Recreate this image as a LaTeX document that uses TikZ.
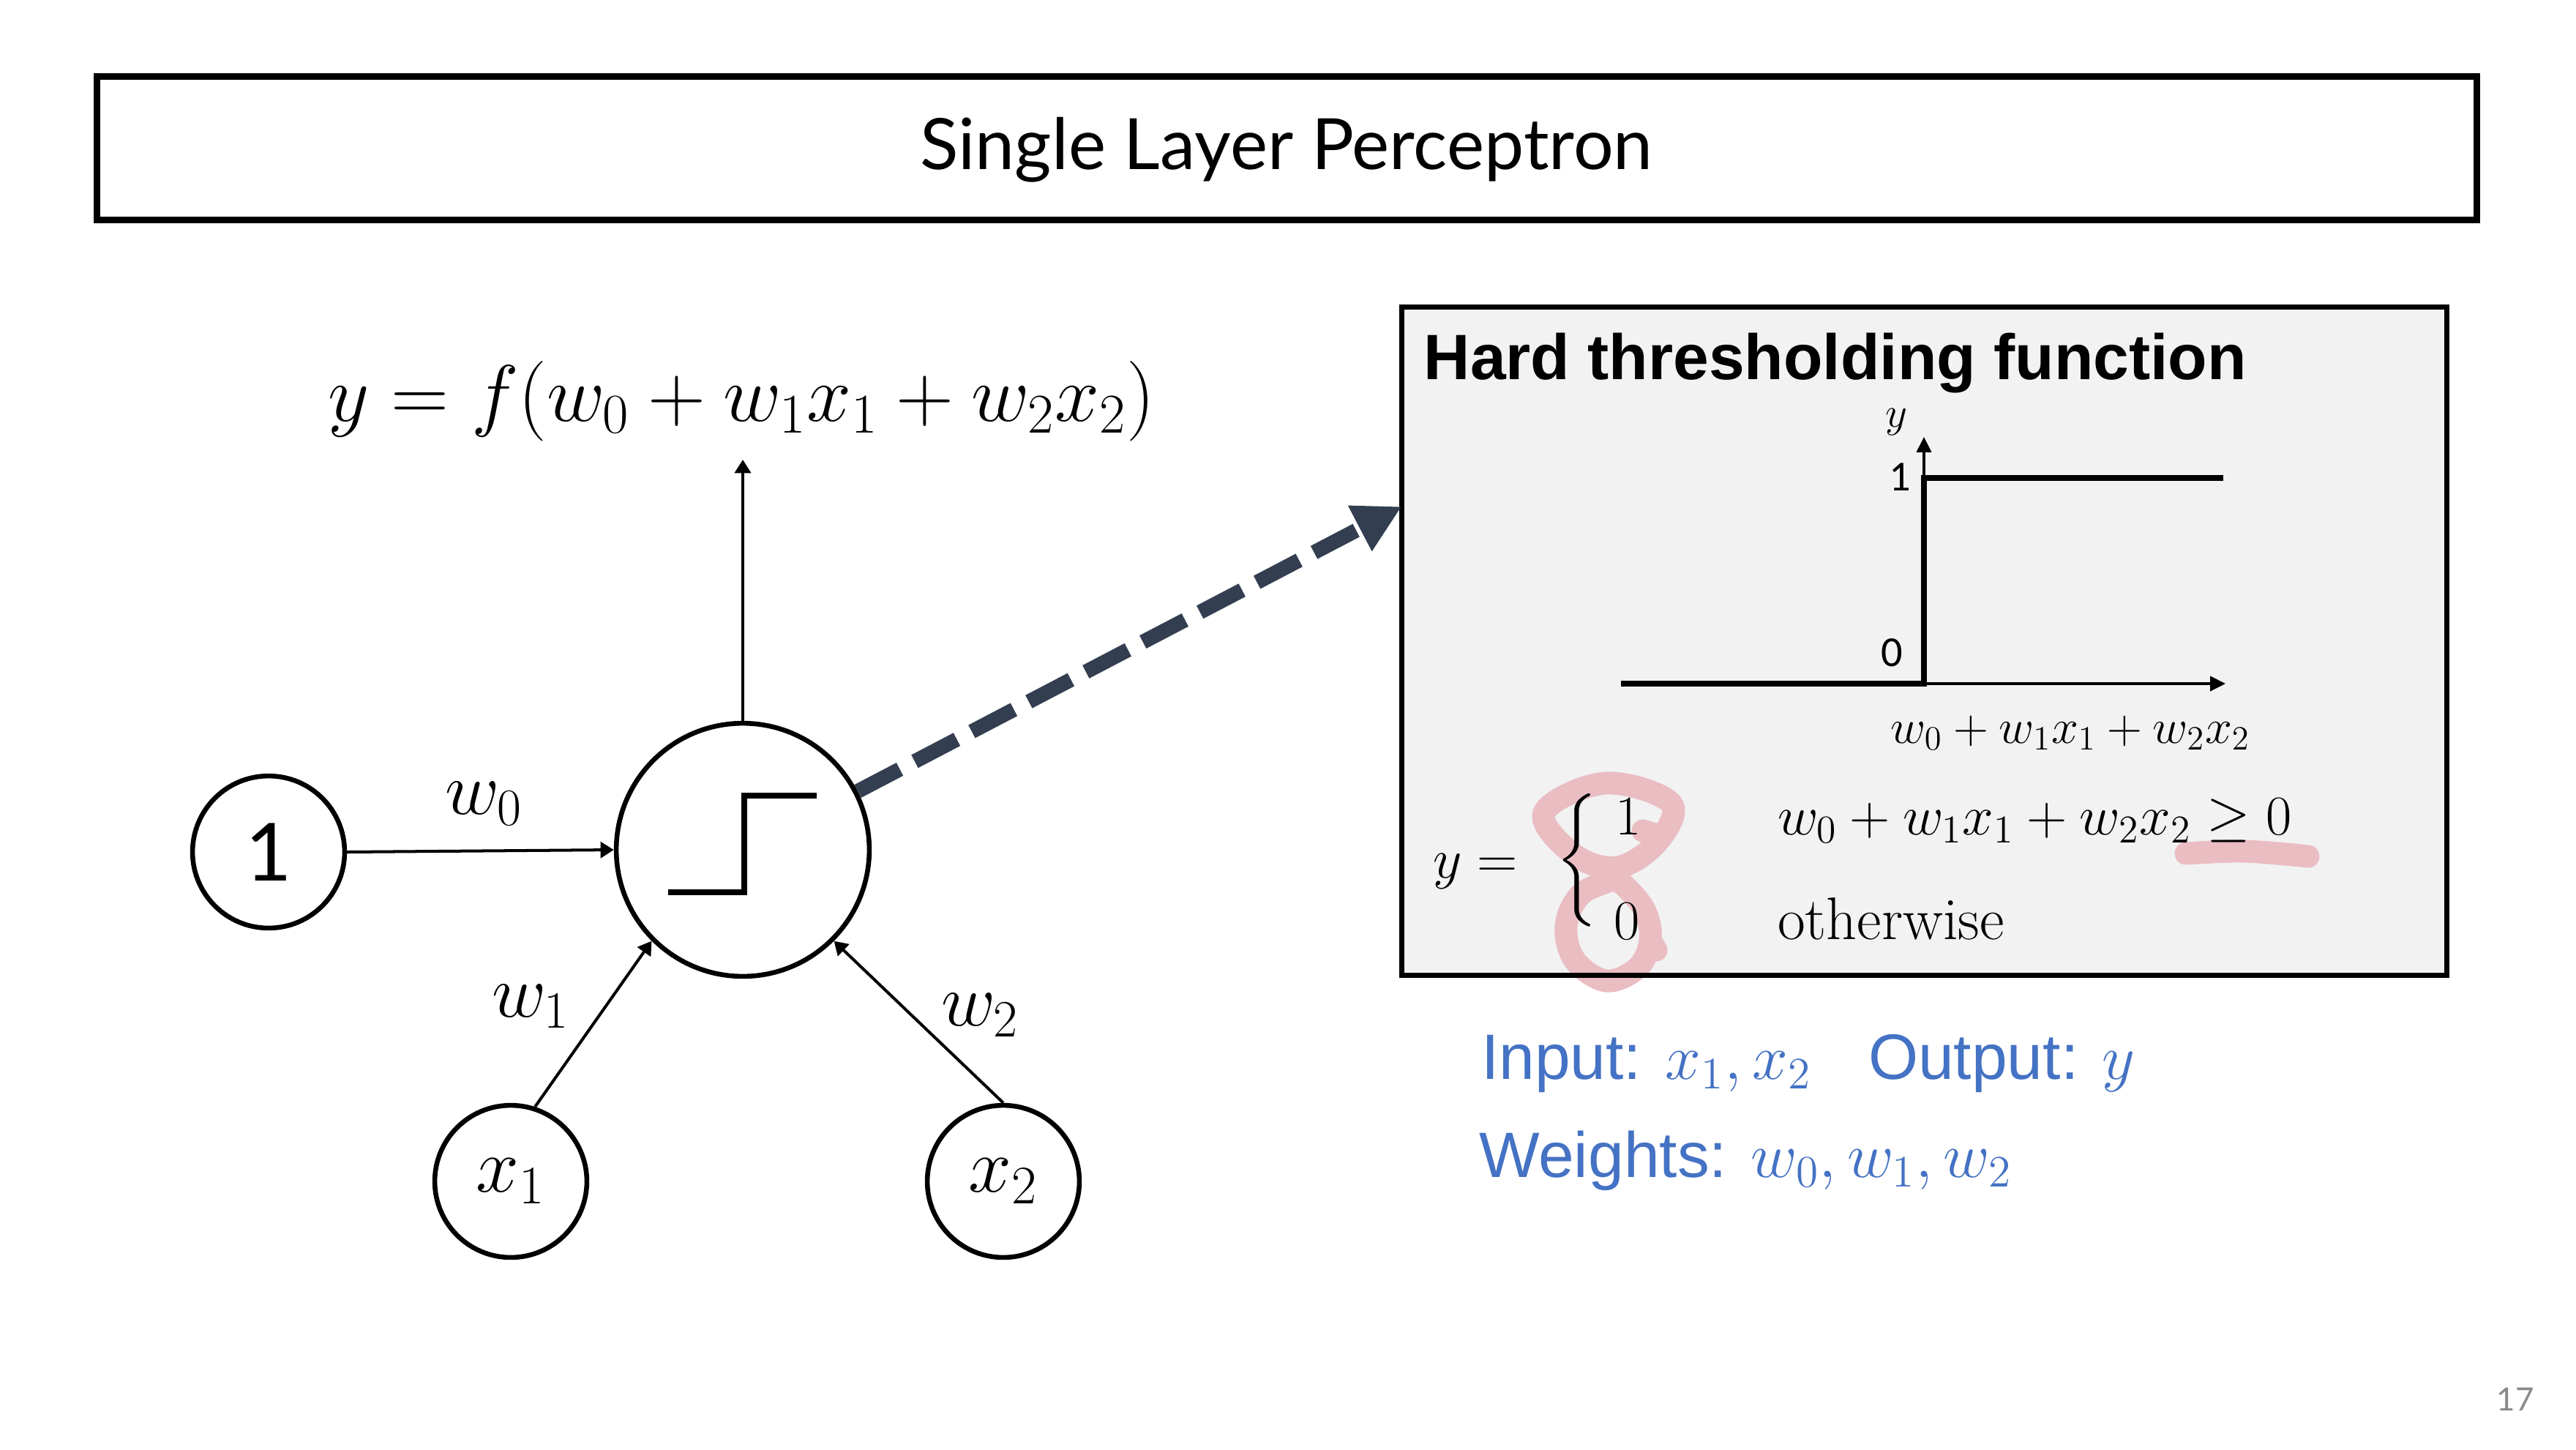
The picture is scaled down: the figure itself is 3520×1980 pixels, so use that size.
\RequirePackage{fix-cm}
\documentclass[tikz,border=0pt]{standalone}
\usepackage{exscale}
\usepackage{fontspec}
\newfontfamily\latofont{Lato}
\newfontfamily\arialfont{Liberation Sans}
\newfontfamily\carlitofont{Carlito}
\usetikzlibrary{arrows.meta,calc}
\definecolor{dashcol}{HTML}{333F50}
\definecolor{boxgray}{HTML}{F2F2F2}
\definecolor{inblue}{HTML}{4472C4}
\definecolor{pinkmark}{RGB}{234,189,195}
\definecolor{pagegray}{HTML}{898989}
\newcommand{\fsz}[1]{\fontsize{#1}{#1}\selectfont}
\tikzset{
  neuron/.style={circle,draw,line width=1.8pt,inner sep=0pt,minimum size=2.001cm},
  bigneuron/.style={circle,draw,line width=1.8pt,inner sep=0pt,minimum size=3.329cm},
  conn/.style={line width=1.1pt,-{Triangle[length=5pt,width=6pt]}},
  axisline/.style={line width=0.9pt,-{Triangle[length=5.7pt,width=5.5pt]}},
  stepline/.style={line width=2.2pt,line join=miter},
  pinkstroke/.style={draw=pinkmark,line width=8.5pt,line cap=round,line join=round},
  dasharrow/.style={draw=dashcol,line width=5.5pt,dash pattern=on 17.8pt off 6.3pt,
    -{Triangle[length=17.7pt,width=18pt,fill=dashcol]}},
  mathlbl/.style={inner sep=0pt,outer sep=0pt},
  bluetext/.style={inner sep=0pt,outer sep=0pt,text=inblue,font=\arialfont\fsz{24}},
}
\begin{document}
\begin{tikzpicture}[x=0.0096212cm,y=-0.0096212cm]
\useasboundingbox (0,0) rectangle (3520,1980);
\fill[white] (0,0) rectangle (3520,1980);

% title
\node[draw,line width=2.45pt,inner sep=0pt,minimum width=31.312cm,minimum height=1.8954cm] (title) at (1758.75,202.5) {};
\node[inner sep=0pt,anchor=base,font=\latofont\fsz{26.5}] (titletxt) at (1758,231.6) {Single Layer Perceptron};

% neurons
\node[neuron,font=\latofont\fsz{30}] (one) at (367,1164) {1};
\node[bigneuron] (main) at (1015,1161) {};
\node[neuron,font=\fsz{29}] (xa) at (698,1614) {$x_1$};
\node[neuron,font=\fsz{29}] (xb) at (1371,1614) {$x_2$};

\draw[line width=2.2pt] (913,1219) -- (1017,1219) -- (1017,1087) -- (1116,1087);

\draw[conn] (one.east) -- (main.west);
\draw[conn] (xa.72) -- (main.225);
\draw[conn] (xb.90) -- (main.315);
\coordinate (outtip) at (1015,628);
\draw[conn] (main.north) -- (outtip);

\node[mathlbl,anchor=base,font=\fsz{30}] (eq) at (1013,575) {$y = f(w_0 + w_1x_1 + w_2x_2)$};
\node[mathlbl,anchor=base west,font=\fsz{28}] (lw0) at (608,1112) {$w_0$};
\node[mathlbl,anchor=base west,font=\fsz{28}] (lw1) at (672,1389) {$w_1$};
\node[mathlbl,anchor=base west,font=\fsz{28}] (lw2) at (1286,1401) {$w_2$};

% grey box
\node[fill=boxgray,inner sep=0pt,outer sep=0pt,minimum width=13.749cm,minimum height=8.794cm] (gbox) at (2629.5,876) {};

% pink marks
\draw[pinkstroke] plot[smooth cycle,tension=0.6] coordinates {(2193,1070) (2283,1097) (2265,1150) (2210,1185) (2150,1167) (2110,1110)};
\draw[pinkstroke] (2268,1142) -- (2245,1135);
\draw[pinkstroke] plot[smooth,tension=0.6] coordinates {(2210,1186) (2205,1200) (2160,1222) (2140,1265) (2152,1312) (2195,1340) (2238,1322) (2255,1285) (2248,1245) (2222,1212) (2206,1202)};
\draw[pinkstroke] (2255,1285) -- (2263,1298);
\draw[pinkstroke] plot[smooth,tension=0.6] coordinates {(2987,1166) (3067,1163) (3154,1170)};

\draw[line width=2pt] (gbox.north west) rectangle (gbox.south east);

\node[inner sep=0pt,anchor=base west,font=\arialfont\bfseries\fsz{24}] (gtitle) at (1945,518) {Hard thresholding function};

% graph
\coordinate (O) at (2629,934);
\coordinate (ytip) at (2629,597);
\coordinate (xtip) at (3041,934);
\draw[axisline] (O) -- (ytip);
\draw[axisline] (O) -- (xtip);
\draw[stepline] (2215,934) -- (O) -- (2629,653) -- (3038,653);
\node[mathlbl,font=\fsz{16}] (ylab) at (2591,577) {$y$};
\node[inner sep=0pt,font=\carlitofont\fsz{16}] (lab1) at (2596,652) {1};
\node[inner sep=0pt,font=\carlitofont\fsz{16}] (lab0) at (2585,892) {0};
\node[mathlbl,anchor=base,font=\fsz{18.2}] (xlab) at (2829,1015) {$w_0 + w_1x_1 + w_2x_2$};

% piecewise
\node[mathlbl,anchor=base west,font=\fsz{21}] (ceq) at (1958,1199) {$y =$};
\node[mathlbl,anchor=west,font=\fsz{21}] (brace) at (2126,1175) {$\left\{\vcenter{\hbox{\rule{0pt}{46pt}}}\right.$};
\node[mathlbl,anchor=base west,font=\fsz{21}] (c1) at (2207,1140) {$1$};
\node[mathlbl,anchor=base west,font=\fsz{21}] (c0) at (2205,1283) {$0$};
\node[mathlbl,anchor=base west,font=\fsz{21}] (cond1) at (2429,1140) {$w_0 + w_1x_1 + w_2x_2 \geq 0$};
\node[mathlbl,anchor=base west,font=\fsz{22.5}] (cond0) at (2429,1283) {otherwise};

% dashed arrow
\coordinate (lvl) at (0,692);
\coordinate (dtip) at (gbox.west |- lvl);
\draw[dasharrow] (main.27) -- (dtip);

% input/output
\node[bluetext,anchor=base west] (inp) at (2024,1474) {Input: $x_1, x_2$};
\node[bluetext,anchor=base west] (outp) at (2553,1474) {Output: $y$};
\node[bluetext,anchor=base west] (wts) at (2021,1608) {Weights: $w_0, w_1, w_2$};

\node[inner sep=0pt,text=pagegray,font=\latofont\fsz{12}] (pnum) at (3437,1912) {17};
\end{tikzpicture}
\end{document}
